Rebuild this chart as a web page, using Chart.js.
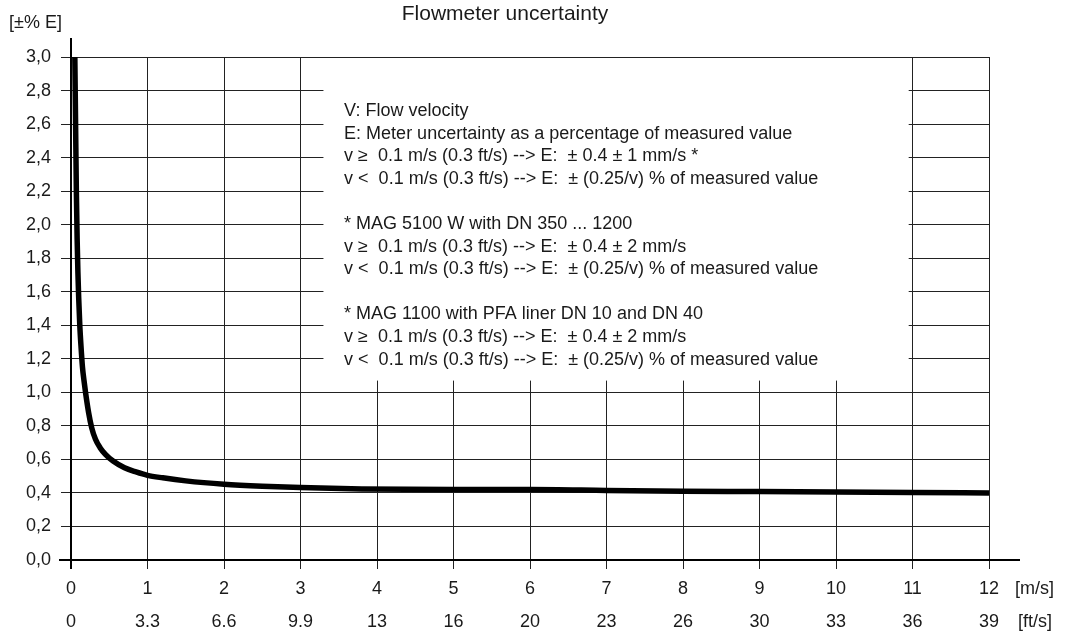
<!DOCTYPE html>
<html>
<head>
<meta charset="utf-8">
<script src="https://cdn.jsdelivr.net/npm/chart.js@4"></script>
<style>
  html, body { margin: 0; padding: 0; background: #fff; }
  #wrap { width: 1066px; height: 634px; }
</style>
</head>
<body>
<div id="wrap"><canvas id="uncChart" width="1066" height="634"></canvas></div>
<script>
const chartTitle = "Flowmeter uncertainty";
const yAxisLabel = "[±% E]";

const velocity = [0.05, 0.06, 0.07, 0.08, 0.09, 0.1, 0.115, 0.13, 0.15, 0.17, 0.19, 0.23, 0.27, 0.32, 0.38, 0.45, 0.55, 0.7, 0.85, 1.0, 1.2, 1.5, 2.0, 2.5, 3.0, 3.8, 5, 6, 7, 8, 9, 10, 11, 12];
const uncertainty = [3.0, 2.6, 2.2, 1.92, 1.72, 1.57, 1.40, 1.28, 1.15, 1.07, 1.0, 0.88, 0.79, 0.72, 0.67, 0.63, 0.59, 0.55, 0.525, 0.505, 0.49, 0.472, 0.452, 0.44, 0.432, 0.424, 0.42, 0.42, 0.415, 0.41, 0.408, 0.405, 0.403, 0.40];

const yTickLabels = ["0,0", "0,2", "0,4", "0,6", "0,8", "1,0", "1,2", "1,4", "1,6", "1,8", "2,0", "2,2", "2,4", "2,6", "2,8", "3,0"];
const msTickLabels = ["0", "1", "2", "3", "4", "5", "6", "7", "8", "9", "10", "11", "12"];
const ftTickLabels = ["0", "3.3", "6.6", "9.9", "13", "16", "20", "23", "26", "30", "33", "36", "39"];
const msUnit = "[m/s]";
const ftUnit = "[ft/s]";

const noteLines = [
    "V: Flow velocity",
    "E: Meter uncertainty as a percentage of measured value",
    "v \u2265  0.1 m/s (0.3 ft/s) --> E:  \u00b1 0.4 \u00b1 1 mm/s *",
    "v <  0.1 m/s (0.3 ft/s) --> E:  \u00b1 (0.25/v) % of measured value",
    "",
    "* MAG 5100 W with DN 350 ... 1200",
    "v \u2265  0.1 m/s (0.3 ft/s) --> E:  \u00b1 0.4 \u00b1 2 mm/s",
    "v <  0.1 m/s (0.3 ft/s) --> E:  \u00b1 (0.25/v) % of measured value",
    "",
    "* MAG 1100 with PFA liner DN 10 and DN 40",
    "v \u2265  0.1 m/s (0.3 ft/s) --> E:  \u00b1 0.4 \u00b1 2 mm/s",
    "v <  0.1 m/s (0.3 ft/s) --> E:  \u00b1 (0.25/v) % of measured value"
];

const FONT = "'Liberation Sans', Arial, sans-serif";
const INK = "#1a1a1a";

// white note box over the grid, then axis lines, texts
const decorPlugin = {
    id: "decor",
    beforeDatasetsDraw(chart) {
        const ctx = chart.ctx;
        const xs = chart.scales.x;
        const ys = chart.scales.y;
        const l = xs.getPixelForValue(3.3);
        const r = xs.getPixelForValue(10.95);
        const t = ys.getPixelForValue(3.0) + 1;
        const b = ys.getPixelForValue(1.07);
        ctx.save();
        ctx.fillStyle = "#fff";
        ctx.fillRect(l, t, r - l, b - t);
        ctx.restore();
    },
    afterDatasetsDraw(chart) {
        const ctx = chart.ctx;
        const xs = chart.scales.x;
        const ys = chart.scales.y;
        const x0 = xs.getPixelForValue(0);
        const y0 = ys.getPixelForValue(0);
        const area = chart.chartArea;

        ctx.save();
        ctx.strokeStyle = "#000";
        ctx.lineWidth = 2;
        ctx.beginPath();
        ctx.moveTo(x0, area.top - 19);
        ctx.lineTo(x0, y0 + 9);
        ctx.moveTo(area.left - 12, y0);
        ctx.lineTo(area.right + 31, y0);
        ctx.stroke();

        ctx.fillStyle = INK;
        ctx.font = "21px " + FONT;
        ctx.textAlign = "center";
        ctx.textBaseline = "middle";
        ctx.fillText(chartTitle, 505, 14);

        ctx.font = "18px " + FONT;
        ctx.textAlign = "left";
        ctx.fillText(yAxisLabel, 9, 23);
        ctx.fillText(msUnit, area.right + 26, 589);
        ctx.fillText(ftUnit, area.right + 29, 622);

        ctx.font = "18px " + FONT;
        const tx = xs.getPixelForValue(3.57);
        noteLines.forEach((line, i) => {
            if (line) ctx.fillText(line, tx, 111 + i * 22.6);
        });
        ctx.restore();
    }
};

const ctx = document.getElementById("uncChart").getContext("2d");

new Chart(ctx, {
    type: "scatter",
    data: {
        datasets: [
            {
                label: "E",
                data: velocity.map((v, i) => ({ x: v, y: uncertainty[i] })),
                showLine: true,
                borderColor: "#000",
                borderWidth: 5.5,
                pointRadius: 0,
                cubicInterpolationMode: "monotone",
                clip: 4
            }
        ]
    },
    options: {
        responsive: false,
        animation: false,
        layout: {
            padding: { top: 57, right: 77, left: 0, bottom: 0 }
        },
        plugins: {
            legend: { display: false },
            tooltip: { enabled: false }
        },
        scales: {
            x: {
                type: "linear",
                position: "bottom",
                min: 0,
                max: 12,
                afterFit: s => { s.height = 44; },
                ticks: {
                    stepSize: 1,
                    color: INK,
                    font: { family: FONT, size: 18 },
                    padding: 9,
                    maxRotation: 0,
                    callback: (v, i) => msTickLabels[i]
                },
                grid: { color: "#222", lineWidth: 1, tickLength: 9 },
                border: { display: false }
            },
            x2: {
                type: "linear",
                position: "bottom",
                min: 0,
                max: 12,
                afterFit: s => { s.height = 30; },
                ticks: {
                    stepSize: 1,
                    color: INK,
                    font: { family: FONT, size: 18 },
                    padding: 7,
                    maxRotation: 0,
                    callback: (v, i) => ftTickLabels[i]
                },
                grid: { display: false, drawTicks: false },
                border: { display: false }
            },
            y: {
                type: "linear",
                min: 0,
                max: 3,
                afterFit: s => { s.width = 71; },
                ticks: {
                    stepSize: 0.2,
                    color: INK,
                    font: { family: FONT, size: 18 },
                    padding: 10,
                    callback: (v, i) => yTickLabels[i]
                },
                grid: { color: "#222", lineWidth: 1, tickLength: 10 },
                border: { display: false }
            }
        }
    },
    plugins: [decorPlugin]
});
</script>
</body>
</html>
